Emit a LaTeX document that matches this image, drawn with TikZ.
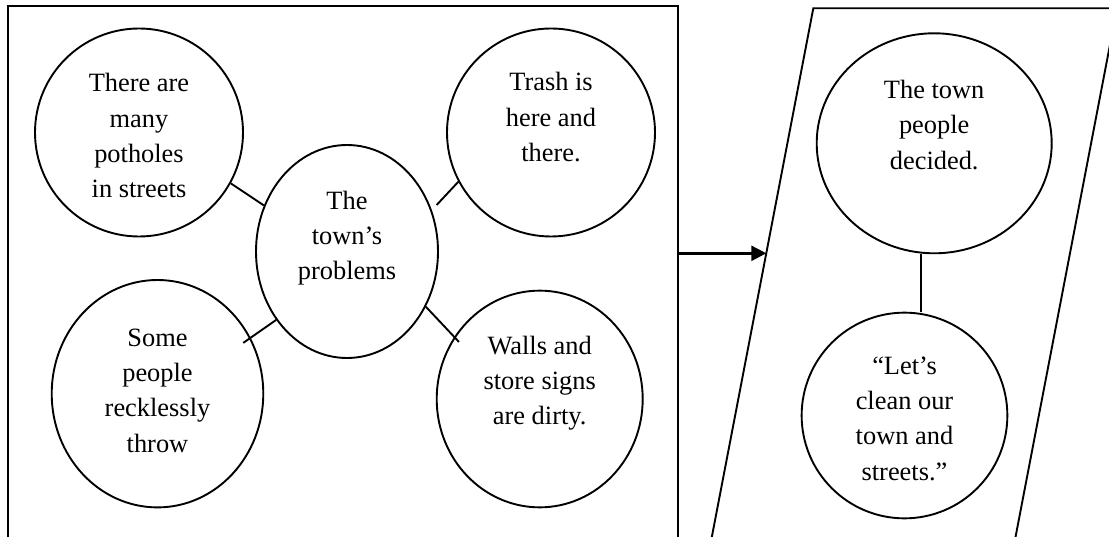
\documentclass[tikz,border=0pt]{standalone}
\usepackage{fontspec}
\setmainfont{Liberation Serif}
\usetikzlibrary{arrows.meta,shapes.geometric}
\begin{document}
\begin{tikzpicture}[x=1pt,y=-1pt,
  bub/.style={ellipse, draw, line width=1.9pt, inner sep=0pt},
  txt/.style={anchor=north, align=center, inner sep=0pt, font=\fontsize{26.4}{35.3}\selectfont},
  conn/.style={line width=1.9pt},
  frame/.style={line width=1.9pt}]
\useasboundingbox (0,0) rectangle (1109,537);
\begin{scope}
\clip (0,0) rectangle (1109,537);
\draw[frame] (8,560) -- (8,6) -- (678,6) -- (678,560);
\draw[frame, line join=miter] (707.4,560) -- (813.3,8.3) -- (1117,8.3) -- (1011.1,560);
\end{scope}
% bubbles
\node[bub, minimum width=208pt, minimum height=208pt] (c1) at (139,132.5) {};
\node[bub, minimum width=182pt, minimum height=213pt] (ctr) at (347,251.5) {};
\node[bub, minimum width=208pt, minimum height=208pt] (trash) at (551,132.5) {};
\node[bub, minimum width=211.6pt, minimum height=227.4pt] (sp) at (157.5,393.7) {};
\node[bub, minimum width=206pt, minimum height=216.7pt] (walls) at (539.7,399) {};
\node[bub, minimum width=235pt, minimum height=220pt] (tp) at (934.2,143.3) {};
\node[bub, minimum width=205.7pt, minimum height=205.7pt] (lc) at (904.5,415.5) {};
% texts
\node[txt] (t1) at (139,71.7) {\rule{0pt}{20pt}There are\\many\\potholes\\in streets};
\node[txt] (tctr) at (347,189) {\rule{0pt}{20pt}The\\town’s\\problems};
\node[txt] (ttrash) at (551,70.7) {\rule{0pt}{20pt}Trash is\\here and\\there.};
\node[txt] (tsp) at (157.5,326) {\rule{0pt}{20pt}Some\\people\\recklessly\\throw};
\node[txt] (twalls) at (539.7,334) {\rule{0pt}{20pt}Walls and\\store signs\\are dirty.};
\node[txt] (ttp) at (934.2,78.3) {\rule{0pt}{20pt}The town\\people\\decided.};
\node[txt] (tlc) at (904.5,354) {\rule{0pt}{20pt}“Let’s\\clean our\\town and\\streets.”};
% connectors
\draw[conn] (c1.-29) -- (ctr.151);
\draw[conn, shorten >=7pt] (trash.-152) -- (ctr.26);
\draw[conn, shorten >=-9pt] (ctr.-136) -- (sp.31);
\draw[conn, shorten >=-7pt] (ctr.-35) -- (walls.144);
\coordinate (vx) at (921,0);
\draw[conn] (tp.south -| vx) -- (lc.north -| vx);
% arrow
\coordinate (as) at (678,253.3);
\coordinate (ae) at (766.3,253.3);
\draw[line width=2.6pt, -{Triangle[length=15pt,width=15pt]}] (as) -- (ae);
\end{tikzpicture}
\end{document}
